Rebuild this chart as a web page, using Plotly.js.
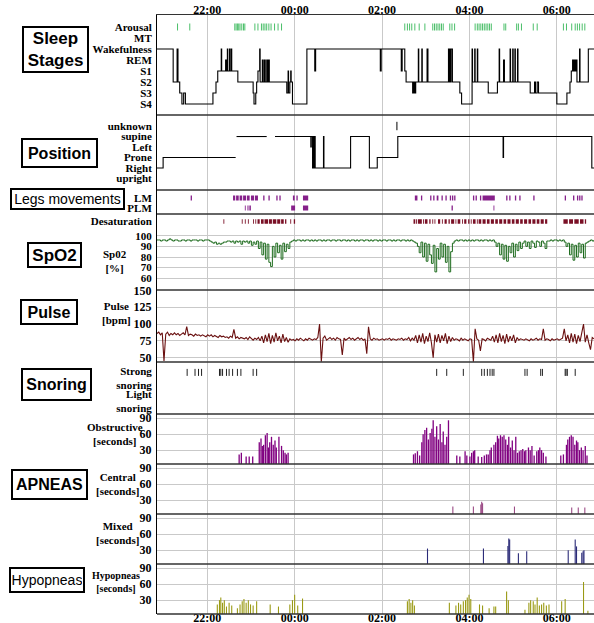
<!DOCTYPE html>
<html><head><meta charset="utf-8">
<script src="https://cdn.plot.ly/plotly-3.0.1.min.js"></script>
<style>html,body{margin:0;padding:0;background:#fff;}</style>
</head><body>
<div id="chart" style="width:594px;height:623px"></div>
<script>
// ---------------- DATA (time in hours; values > 24 are after midnight) ----------------
const timeTickVals = [22, 24, 26, 28, 30];
const timeTickText = ['22:00', '00:00', '02:00', '04:00', '06:00'];

const stageLabels = ['Arousal', 'MT', 'Wakefulness', 'REM', 'S1', 'S2', 'S3', 'S4'];
const stageLevels = [8, 7, 6, 5, 4, 3, 2, 1];
const stageT = [20.85,21.22,21.31,21.33,21.37,21.42,21.46,21.50,22.13,22.20,22.24,22.32,22.33,22.42,22.44,22.46,22.47,22.51,22.52,22.55,22.56,22.70,23.05,23.07,23.11,23.13,23.16,23.20,23.21,23.26,23.27,23.30,23.31,23.34,23.35,23.38,23.39,23.41,23.42,23.82,23.85,23.86,23.89,23.91,23.92,23.95,24.28,24.46,24.48,25.96,25.98,26.44,26.46,26.52,26.55,26.70,26.72,26.73,26.74,26.75,26.77,26.83,26.84,26.91,26.92,27.03,27.05,27.52,27.54,27.55,27.57,27.58,27.61,27.78,27.82,28.06,28.07,28.12,28.13,28.18,28.19,28.43,28.64,28.68,28.69,28.78,28.80,28.93,28.94,28.99,29.00,29.04,29.05,29.10,29.11,29.39,29.49,29.51,29.55,29.58,30.00,30.23,30.30,30.33,30.36,30.37,30.39,30.40,30.42,30.43,30.45,30.46,30.52,30.53,30.72,30.85];
const stageV = [6,3,6,3,2,1,2,1,2,3,4,6,4,5,4,6,4,6,4,6,4,3,2,1,2,3,4,6,3,5,3,5,3,5,3,5,3,5,3,2,4,2,3,4,3,1,6,4,6,4,6,4,6,4,3,2,3,2,3,2,3,6,3,6,3,6,3,6,3,6,3,6,3,2,1,6,3,6,3,6,3,2,3,6,3,5,3,6,3,6,3,6,3,6,3,2,3,2,3,2,1,2,3,4,5,4,5,4,5,4,5,3,6,3,6,6];
const arousalT = [21.32,21.60,22.63,22.66,22.69,22.72,22.75,22.79,22.83,22.86,23.09,23.16,23.24,23.28,23.32,23.36,23.41,23.46,23.54,23.62,23.70,26.52,26.58,26.63,26.68,26.75,26.85,26.98,27.16,27.20,27.24,27.28,27.32,27.36,27.40,27.55,27.60,27.66,28.13,28.18,28.22,28.26,28.30,28.34,28.38,28.42,28.46,28.50,28.79,28.83,29.08,29.12,29.19,29.46,29.55,30.15,30.22,30.34,30.42,30.47,30.52,30.58,30.64];

const posLabels = ['unknown', 'supine', 'Left', 'Prone', 'Right', 'upright'];
const posLevels = [6, 5, 4, 3, 2, 1];
const posT = [20.85,20.99,22.65,22.66,22.67,23.36,23.45,23.55,24.37,24.38,24.41,24.42,24.43,24.44,24.45,24.46,24.47,24.66,24.67,25.28,25.71,25.89,26.36,28.77,28.78,30.80,30.85];
const posV = [2,3,3,null,5,5,null,5,4,5,2,5,2,5,2,5,2,5,2,5,2,3,5,3,5,2,2];
const posUnknownT = [26.34];

const lmStart = [21.62,22.59,22.66,22.74,22.82,22.91,23.00,23.09,23.28,23.40,23.58,23.65,23.96,24.04,24.19,26.75,26.89,27.10,27.17,27.25,27.36,27.45,27.55,27.60,27.65,28.08,28.14,28.24,28.30,28.84,28.91,29.04,29.14,29.46,30.18,30.37,30.46,30.51,30.56];
const lmDur   = [0.03,0.05,0.06,0.06,0.07,0.06,0.07,0.07,0.03,0.03,0.03,0.03,0.04,0.03,0.12,0.06,0.03,0.03,0.03,0.04,0.03,0.03,0.03,0.03,0.03,0.03,0.03,0.03,0.28,0.03,0.03,0.03,0.03,0.03,0.03,0.03,0.03,0.03,0.03];
const plmStart = [22.86,22.92,22.95,22.98,23.92,24.19,27.59,28.55];
const plmDur   = [0.02,0.02,0.02,0.02,0.09,0.12,0.03,0.02];

const desatStart = [22.37,22.79,22.86,22.93,23.05,23.10,23.15,23.23,23.31,23.41,23.50,23.60,23.69,23.78,23.90,23.98,26.72,26.78,26.82,26.94,26.98,27.08,27.15,27.20,27.28,27.37,27.43,27.52,27.58,27.68,27.73,27.83,27.88,27.97,28.03,28.08,28.17,28.21,28.30,28.40,28.49,28.59,28.68,28.78,28.87,28.97,29.06,29.16,29.25,29.35,29.44,29.54,29.63,29.73,30.15,30.28,30.40,30.53,30.64];
const desatDur   = [0.02,0.02,0.02,0.02,0.02,0.02,0.05,0.06,0.08,0.07,0.08,0.07,0.06,0.03,0.02,0.03,0.04,0.02,0.09,0.02,0.06,0.03,0.02,0.02,0.05,0.02,0.05,0.03,0.07,0.02,0.06,0.02,0.05,0.03,0.02,0.06,0.02,0.06,0.07,0.06,0.07,0.06,0.07,0.06,0.07,0.06,0.07,0.06,0.07,0.06,0.07,0.06,0.07,0.05,0.10,0.09,0.10,0.08,0.03];

// SpO2 (%) and pulse (bpm) sampled every 0.04 h from 20:51
const sigStart = 20.85, sigStep = 0.04;
const spo2V = [
96,96,95,96,96,95,96,97,96,95, 96,96,95,95,96,96,95,96,96,95, 96,96,96,95,96,96,95,96,96,96,
95,94,93,94,92,93,92,93,94,94, 95,95,94,95,93,95,94,95,92,95, 94,95,93,95,91,94,92,95,88,94,
82,93,78,92,75,71,90,80,93,84, 91,78,93,85,92,88,94,95,96,95, 96,96,95,96,95,96,96,95,96,95,
96,95,96,96,95,96,95,96,96,95, 96,96,95,96,96,95,96,96,95,96, 95,96,96,95,96,95,96,96,95,96,
96,95,96,95,96,96,95,96,95,96, 96,95,96,96,95,96,95,96,96,95, 96,96,95,96,95,96,95,94,93,90,
84,94,80,93,76,92,82,74,91,66, 88,78,93,80,92,75,90,66,85,93, 95,96,95,96,96,95,96,95,96,95,
96,95,96,96,95,96,95,96,96,95, 96,95,96,94,90,93,82,92,78,91, 76,90,84,93,80,92,86,94,88,93,
95,90,94,88,95,93,89,95,94,90, 95,93,88,95,95,96,95,96,96,95, 96,95,96,94,90,93,82,92,77,91,
80,93,84,92,79,93,94,95,96,95, 96];
const pulseV = [
86,88,84,87,45,85,88,83,86,84, 87,84,86,83,85,87,84,96,83,85, 84,82,85,83,84,82,84,83,81,84,
82,84,81,83,82,80,83,81,82,80, 81,79,82,80,92,79,81,78,80,79, 78,80,77,81,78,76,79,77,80,75,
82,72,84,74,86,71,83,73,87,75, 82,72,85,74,80,73,78,76,77,75, 78,76,79,77,75,78,76,79,77,76,
78,77,80,100,44,79,82,76,78,80, 77,79,76,80,78,77,54,79,76,78, 80,77,79,76,78,80,77,79,76,78,
56,96,78,76,79,77,78,76,77,78, 76,78,77,79,76,78,77,76,78,77, 79,76,78,77,80,75,79,76,83,72,
84,73,86,71,82,74,87,72,50,84, 73,85,72,83,75,86,71,82,74,80, 76,78,77,75,79,76,78,77,75,78,
77,44,93,78,76,60,78,77,75,79, 77,76,82,73,84,72,86,74,83,71, 85,73,82,75,84,72,80,76,78,77,
76,78,77,75,78,76,77,79,76,78, 77,93,76,78,77,75,78,76,77,78, 76,78,79,93,75,84,72,86,73,85,
71,83,74,87,100,73,84,72,62,80, 78];

const snoreLabels = ['Strong<br>snoring', 'Light<br>snoring'];
const strongSnoreT = [21.54,21.72,21.80,21.87,22.28,22.31,22.35,22.44,22.50,22.58,22.69,22.77,23.05,23.13,27.25,27.48,27.86,28.28,28.34,28.41,28.47,28.52,28.56,29.27,29.32,29.63,29.67,30.19,30.21,30.24,30.42];

const obstructiveT = [22.73,22.78,22.89,22.96,23.04,23.19,23.23,23.26,23.29,23.33,23.37,23.40,23.43,23.47,23.51,23.55,23.58,23.64,23.70,23.74,23.78,23.81,23.85,26.72,26.76,26.81,26.86,26.91,26.94,26.98,27.02,27.06,27.10,27.14,27.17,27.21,27.25,27.29,27.33,27.37,27.40,27.44,27.48,27.52,27.71,27.78,27.90,27.94,28.01,28.05,28.09,28.12,28.20,28.28,28.34,28.39,28.43,28.47,28.50,28.56,28.60,28.64,28.67,28.71,28.75,28.79,28.83,28.87,28.90,28.94,28.98,29.02,29.06,29.10,29.14,29.18,29.22,29.26,29.29,29.35,29.39,29.43,29.48,29.54,29.58,29.61,29.65,29.69,29.75,30.09,30.15,30.22,30.25,30.29,30.33,30.37,30.41,30.45,30.48,30.52,30.56,30.60,30.65,30.69];
const obstructiveS = [22,25,18,18,18,45,52,38,40,58,62,35,45,55,40,48,35,55,38,30,25,22,25,22,24,28,20,45,60,68,72,50,62,70,86,55,75,50,79,45,65,40,55,86,20,18,28,20,18,25,28,30,18,17,20,22,22,30,35,40,45,57,52,58,55,58,50,40,55,35,48,30,55,25,28,30,32,28,30,35,30,38,20,28,30,35,30,25,18,20,22,40,50,55,58,55,40,48,45,30,35,30,38,20];
const centralT = [27.62,28.09,28.26,28.28,28.30,29.03,30.34,30.49,30.64];
const centralS = [18,18,22,27,24,18,16,16,16];
const mixedT = [27.04,28.32,28.88,28.90,28.92,29.12,29.31,30.26,30.42,30.45,30.57,30.60,30.62];
const mixedS = [33,33,38,52,50,24,28,30,50,37,25,28,30];
const hypopneaT = [22.23,22.28,22.31,22.35,22.39,22.44,22.50,22.56,22.69,22.75,22.80,22.84,22.89,22.94,22.99,23.05,23.13,23.44,23.63,23.89,23.95,24.00,24.07,24.18,26.58,26.62,26.66,26.70,26.74,27.54,27.69,27.75,27.80,27.86,27.91,27.95,27.99,28.03,28.23,28.30,28.45,28.56,28.60,28.85,28.89,29.27,29.36,29.40,29.46,29.50,29.55,29.60,29.65,29.70,29.76,29.82,30.11,30.19,30.61,30.71];
const hypopneaS = [22,30,35,25,30,18,25,20,15,22,28,32,25,30,22,20,28,22,18,22,30,40,20,33,28,32,25,30,20,25,20,25,22,28,30,35,40,32,22,20,15,18,18,46,30,12,25,30,28,22,35,20,22,25,20,22,28,32,64,10];

// ---------------- LAYOUT HELPERS ----------------
const PL = 157, PR = 594, PT = 15, PB = 614;
const px = v => (v - PL) / (PR - PL);
const py = v => (PB - v) / (PB - PT);
const dom = (top, bottom) => [py(bottom), py(top)];
const serif = 'Liberation Serif, Times New Roman, serif';
const sans = 'Liberation Sans, Arial, sans-serif';
const tickFont = {family: serif, size: 11, color: '#000', weight: 'bold'};
const numFont = {family: serif, size: 12, color: '#000', weight: 'bold'};
const smallNumFont = {family: serif, size: 11, color: '#000', weight: 'bold'};
const grid = '#c9c9c9';

function yax(domain, range, extra) {
  return Object.assign({domain: domain, range: range, anchor: 'x', showline: true, linecolor: '#000',
    linewidth: 1, ticks: '', showgrid: false, zeroline: false, fixedrange: true, tickfont: tickFont,
    ticklabelstandoff: 2}, extra || {});
}
const constArr = (arr, v) => arr.map(() => v);
const sigT = spo2V.map((_, i) => sigStart + i * sigStep);

function ticks(color, size) {
  return {symbol: 'line-ns-open', size: size, color: color, line: {width: 1, color: color}};
}

// ---------------- TRACES ----------------
const traces = [
  {type: 'scatter', mode: 'lines', x: stageT, y: stageV, xaxis: 'x', yaxis: 'y',
   line: {shape: 'hv', color: '#000', width: 1.1}},
  {type: 'scatter', mode: 'markers', x: arousalT, y: constArr(arousalT, 8), xaxis: 'x', yaxis: 'y',
   marker: ticks('#4cbf6a', 5)},
  {type: 'scatter', mode: 'lines', x: [sigStart], y: [null], xaxis: 'x2', yaxis: 'y'},
  {type: 'scatter', mode: 'lines', x: posT, y: posV, xaxis: 'x', yaxis: 'y2', connectgaps: false,
   line: {shape: 'hv', color: '#000', width: 1.1}},
  {type: 'scatter', mode: 'markers', x: posUnknownT, y: constArr(posUnknownT, 6), xaxis: 'x', yaxis: 'y2',
   marker: ticks('#000', 6)},
  {type: 'bar', orientation: 'h', base: lmStart, x: lmDur, y: constArr(lmStart, 2), width: 0.5,
   xaxis: 'x', yaxis: 'y3', marker: {color: '#86208a', line: {width: 0}}},
  {type: 'bar', orientation: 'h', base: plmStart, x: plmDur, y: constArr(plmStart, 1), width: 0.5,
   xaxis: 'x', yaxis: 'y3', marker: {color: '#86208a', line: {width: 0}}},
  {type: 'bar', orientation: 'h', base: desatStart, x: desatDur, y: constArr(desatStart, 0.5), width: 0.3,
   xaxis: 'x', yaxis: 'y4', marker: {color: '#7a1026', line: {width: 0}}},
  {type: 'scatter', mode: 'lines', x: sigT, y: spo2V, xaxis: 'x', yaxis: 'y5',
   line: {color: '#1d6b1d', width: 1, shape: 'hv'}},
  {type: 'scatter', mode: 'lines', x: sigT, y: pulseV, xaxis: 'x', yaxis: 'y6',
   line: {color: '#6a1010', width: 1.1}},
  {type: 'scatter', mode: 'markers', x: strongSnoreT, y: constArr(strongSnoreT, 0.8), xaxis: 'x', yaxis: 'y7',
   marker: ticks('#222', 5)},
  {type: 'bar', x: obstructiveT, y: obstructiveS, width: 0.03, xaxis: 'x', yaxis: 'y8',
   marker: {color: '#800080', line: {width: 0}}},
  {type: 'bar', x: centralT, y: centralS, width: 0.025, xaxis: 'x', yaxis: 'y9',
   marker: {color: '#9b4a85', line: {width: 0}}},
  {type: 'bar', x: mixedT, y: mixedS, width: 0.025, xaxis: 'x', yaxis: 'y10',
   marker: {color: '#2b2b78', line: {width: 0}}},
  {type: 'bar', x: hypopneaT, y: hypopneaS, width: 0.025, xaxis: 'x', yaxis: 'y11',
   marker: {color: '#9a9a14', line: {width: 0}}}
];

// ---------------- LAYOUT ----------------
const borderAxes = ['y', 'y2', 'y3', 'y5', 'y6', 'y7', 'y8', 'y9', 'y10', 'y11'];
const shapes = borderAxes.map(a => ({type: 'line', xref: 'paper', x0: 0, x1: 1,
  yref: a + ' domain', y0: 0, y1: 0, line: {color: '#333', width: 1.5}, layer: 'above'}));

function box(text, cx, cy, w, h, size, bold) {
  return {text: text, xref: 'paper', yref: 'paper', x: px(cx), y: py(cy), xanchor: 'center', yanchor: 'middle',
    showarrow: false, width: w, height: h, bordercolor: '#000', borderwidth: 2, borderpad: 1, bgcolor: '#fff',
    font: {family: sans, size: size, color: '#000', weight: bold ? 'bold' : 'normal'}};
}
function ttl(text, cx, cy, size) {
  return {text: text, xref: 'paper', yref: 'paper', x: px(cx), y: py(cy), xanchor: 'center', yanchor: 'middle',
    showarrow: false, align: 'center', font: {family: serif, size: size || 11, color: '#000', weight: 'bold'}};
}

const annotations = [
  box('Sleep<br>Stages', 55.5, 49.5, 61, 41, 17, true),
  box('Position', 59.5, 153, 71, 24, 16, true),
  box('Legs movements', 67.5, 199, 109, 16, 14, false),
  box('SpO2', 54.5, 255, 49, 20, 17, true),
  box('Pulse', 49, 312, 52, 20, 16, true),
  box('Snoring', 56.5, 384.5, 65, 27, 16, true),
  box('APNEAS', 49.5, 484.5, 71, 25, 16, true),
  box('Hypopneas', 47, 580, 70, 20, 14, false),
  ttl('Sp02<br>[%]', 115, 260.5),
  ttl('Pulse<br>[bpm]', 116.5, 313),
  ttl('Obstructive<br>[seconds]', 115, 433.5),
  ttl('Central<br>[seconds]', 117, 483.5),
  ttl('Mixed<br>[seconds]', 117, 533),
  ttl('Hypopneas<br>[seconds]', 115.5, 581.5, 10)
];

const apneaRange = [4, 97.8];
const apneaTicks = {tickvals: [30, 60, 90], showgrid: true, gridcolor: grid, tickfont: numFont};

const layout = {
  width: 594, height: 623,
  margin: {l: PL, r: 594 - PR, t: PT, b: 623 - PB, pad: 0},
  paper_bgcolor: '#fff', plot_bgcolor: '#fff',
  showlegend: false, hovermode: false, barmode: 'overlay',
  font: {family: serif, color: '#000'},
  xaxis: {domain: [0, 1], range: [20.85, 30.85], anchor: 'y11', tickvals: timeTickVals, ticktext: timeTickText,
    showgrid: true, gridcolor: grid, gridwidth: 1, zeroline: false, showline: false, ticks: '',
    tickfont: numFont, fixedrange: true, ticklabelstandoff: -5},
  xaxis2: {overlaying: 'x', side: 'top', anchor: 'y', range: [20.85, 30.85], tickvals: timeTickVals,
    ticktext: timeTickText, showgrid: false, zeroline: false, showline: true, linecolor: '#333', linewidth: 1.5,
    ticks: '', tickfont: numFont, fixedrange: true, ticklabelstandoff: -5},
  yaxis: yax(dom(15, 115), [0, 9.09], {tickvals: stageLevels, ticktext: stageLabels}),
  yaxis2: yax(dom(115, 190), [-0.095, 7.05], {tickvals: posLevels, ticktext: posLabels}),
  yaxis3: yax(dom(190, 214), [0.4, 2.8], {tickvals: [2, 1], ticktext: ['LM', 'PLM']}),
  yaxis4: yax(dom(214, 229), [0, 1], {tickvals: [0.5], ticktext: ['Desaturation']}),
  yaxis5: yax(dom(229, 290), [49, 106.3], {tickvals: [60, 70, 80, 90, 100], showgrid: true, gridcolor: grid, tickfont: smallNumFont}),
  yaxis6: yax(dom(290, 362), [43.6, 150.5], {tickvals: [50, 75, 100, 125, 150], showgrid: true, gridcolor: grid, tickfont: numFont}),
  yaxis7: yax(dom(362, 414), [0, 1], {tickvals: [0.69, 0.25], ticktext: snoreLabels}),
  yaxis8: yax(dom(414, 464), apneaRange, apneaTicks),
  yaxis9: yax(dom(464, 514), apneaRange, apneaTicks),
  yaxis10: yax(dom(514, 564), apneaRange, apneaTicks),
  yaxis11: yax(dom(564, 614), apneaRange, apneaTicks),
  shapes: shapes,
  annotations: annotations
};

Plotly.newPlot('chart', traces, layout, {displayModeBar: false, staticPlot: true});
</script>
</body></html>
